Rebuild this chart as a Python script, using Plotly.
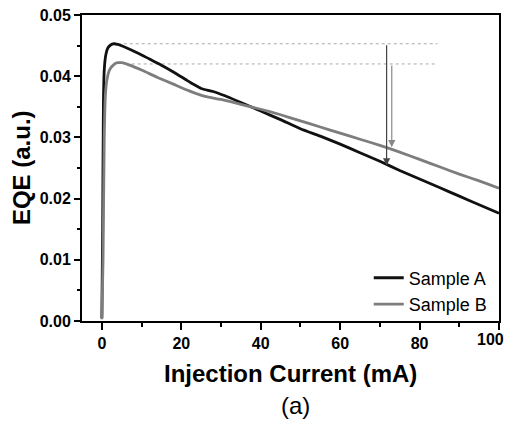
import plotly.graph_objects as go

# Sample A (black)
current_a = [0.0, 0.2, 0.4, 0.6, 1.0, 1.5, 2.2, 3.0, 4.0, 6, 9, 12, 15, 18, 21, 23, 25, 28, 31,
             35, 40, 45, 50, 55, 60, 65, 70, 75, 80, 85, 90, 95, 100]
eqe_a = [0.0005, 0.015, 0.036, 0.041, 0.0435, 0.0446, 0.0451, 0.0453, 0.0452, 0.0447, 0.0438,
         0.0428, 0.0418, 0.0407, 0.0395, 0.0387, 0.0380, 0.0375, 0.0368, 0.0357, 0.0343, 0.0329,
         0.0314, 0.0302, 0.0289, 0.0275, 0.0261, 0.0246, 0.0232, 0.0218, 0.0204, 0.0190, 0.0176]

# Sample B (gray)
current_b = [0.0, 0.3, 0.6, 0.9, 1.3, 2.0, 3.0, 4.0, 5.0, 7, 10, 14, 18, 22, 26, 30, 35, 40, 45,
             50, 55, 60, 65, 70, 75, 80, 85, 90, 95, 100]
eqe_b = [0.0003, 0.010, 0.030, 0.037, 0.0395, 0.0411, 0.0419, 0.0422, 0.0422, 0.0418, 0.0410,
         0.0398, 0.0387, 0.0376, 0.0367, 0.0362, 0.0354, 0.0346, 0.0337, 0.0327, 0.0317, 0.0307,
         0.0297, 0.0287, 0.0276, 0.0264, 0.0252, 0.0240, 0.0229, 0.0217]

# peak reference lines and droop arrows
peak_a, peak_b = 0.0453, 0.0420
guide_x_a = [4, 84.5]
guide_x_b = [6, 84.5]
arrow_a = (71.7, 0.0254)
arrow_b = (73.0, 0.0284)

x_ticks = [0, 20, 40, 60, 80, 100]
x_ticktext = ["0", "20", "40", "60", "80", ""]  # last one drawn below so it isn't clipped
y_ticks = [0.00, 0.01, 0.02, 0.03, 0.04, 0.05]

fig = go.Figure()

fig.add_trace(go.Scatter(x=guide_x_a, y=[peak_a, peak_a], mode="lines", showlegend=False,
                         line=dict(color="#aaaaaa", width=1, dash="dot")))
fig.add_trace(go.Scatter(x=guide_x_b, y=[peak_b, peak_b], mode="lines", showlegend=False,
                         line=dict(color="#aaaaaa", width=1, dash="dot")))

fig.add_trace(go.Scatter(x=current_a, y=eqe_a, mode="lines", name="Sample A",
                         line=dict(color="#111111", width=2.8, shape="spline", smoothing=0.6)))
fig.add_trace(go.Scatter(x=current_b, y=eqe_b, mode="lines", name="Sample B",
                         line=dict(color="#7d7d7d", width=2.8, shape="spline", smoothing=0.6)))

fig.add_annotation(x=arrow_a[0], y=arrow_a[1], ax=arrow_a[0], ay=peak_a, xref="x", yref="y",
                   axref="x", ayref="y", text="", showarrow=True, arrowhead=2, arrowsize=1.2,
                   arrowwidth=1.2, arrowcolor="#444444")
fig.add_annotation(x=arrow_b[0], y=arrow_b[1], ax=arrow_b[0], ay=peak_b, xref="x", yref="y",
                   axref="x", ayref="y", text="", showarrow=True, arrowhead=2, arrowsize=1.2,
                   arrowwidth=1.2, arrowcolor="#888888")

# last x tick label, pulled in a little from the right edge
fig.add_annotation(text="<b>%d</b>" % x_ticks[-1], x=x_ticks[-1], y=0, xref="x", yref="paper",
                   xanchor="right", yanchor="top", xshift=7, yshift=-8, showarrow=False,
                   font=dict(size=16))

# axis titles and panel label
fig.add_annotation(text="<b>Injection Current (mA)</b>", x=0.5, y=-0.173, xref="paper", yref="paper",
                   xanchor="center", yanchor="middle", showarrow=False, font=dict(size=24))
fig.add_annotation(text="(a)", x=0.511, y=-0.277, xref="paper", yref="paper",
                   xanchor="center", yanchor="middle", showarrow=False, font=dict(size=24))
fig.add_annotation(text="<b>EQE (a.u.)</b>", x=-0.146, y=0.5, xref="paper", yref="paper",
                   xanchor="center", yanchor="middle", textangle=-90, showarrow=False,
                   font=dict(size=24))

# page body has an 8px margin, so the figure is shifted up/left by 8px
fig.update_layout(
    width=505, height=417,
    margin=dict(l=74, r=14, t=7, b=104),
    plot_bgcolor="white", paper_bgcolor="white",
    font=dict(family="Arial, Liberation Sans", color="black"),
    legend=dict(x=0.985, y=-0.005, xanchor="right", yanchor="bottom", bgcolor="rgba(0,0,0,0)",
                font=dict(size=18), tracegroupgap=0),
)

fig.update_xaxes(
    range=[-5, 100], tickvals=x_ticks, ticktext=x_ticktext, showgrid=False, zeroline=False,
    automargin=False, showline=True, linecolor="black", linewidth=2, mirror=True,
    ticklabeloverflow="allow",
    ticks="outside", ticklen=7, tickwidth=1.5, tickcolor="black",
    tickfont=dict(size=16, weight="bold"),
    minor=dict(dtick=10, ticks="outside", ticklen=4, tickwidth=1.5, tickcolor="black"),
)
fig.update_yaxes(
    range=[0, 0.05], tickvals=y_ticks, tickformat=".2f", showgrid=False, zeroline=False,
    automargin=False, showline=True, linecolor="black", linewidth=2, mirror=True,
    ticklabeloverflow="allow",
    ticks="outside", ticklen=6, tickwidth=1.5, tickcolor="black",
    tickfont=dict(size=16, weight="bold"),
    minor=dict(dtick=0.005, ticks="outside", ticklen=3, tickwidth=1.5, tickcolor="black"),
)

fig.write_html("out.html")
